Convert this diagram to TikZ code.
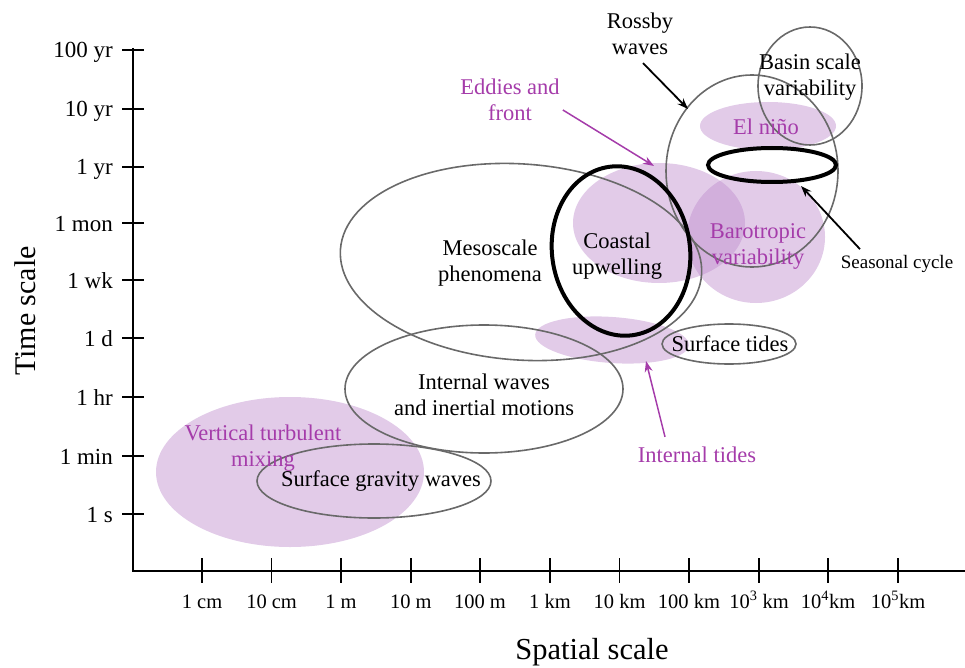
\documentclass[tikz,border=0pt]{standalone}
\usepackage{fontspec}
\setmainfont{Liberation Serif}
\usepackage{xcolor}
\usepackage{tikz}
\usetikzlibrary{arrows.meta}

\definecolor{lilac}{RGB}{190,140,205}
\definecolor{plum}{RGB}{165,60,170}
\definecolor{rimgray}{RGB}{105,105,105}

\tikzset{
  blob/.style={fill=lilac,fill opacity=0.45,draw=none},
  rim/.style={draw=rimgray,line width=1.6pt},
  boldrim/.style={draw=black,line width=4pt},
  lbl/.style={font=\fontsize{22.5}{26}\selectfont,align=center,inner sep=0pt},
  plbl/.style={lbl,text=plum},
  ticklbl/.style={font=\fontsize{20.5}{24}\selectfont,inner sep=0pt},
  pointer/.style={-{Stealth[length=11pt,width=8pt]},line width=1.8pt},
}

\begin{document}
\begin{tikzpicture}[x=1pt,y=-1pt]
\useasboundingbox (0,0) rectangle (965,668);

% Shaded regions
\fill[blob] (290,472) ellipse [x radius=134,y radius=75];
\fill[blob] (659,223) ellipse [x radius=86,y radius=60];
\fill[blob,rotate around={-4:(612,340)}] (612,340) ellipse [x radius=77,y radius=23];
\fill[blob] (756,237) ellipse [x radius=69,y radius=66];
\fill[blob] (768,126) ellipse [x radius=68,y radius=24];

% Outlined regions
\draw[rim] (374,481) ellipse [x radius=117,y radius=37];
\draw[rim] (484,389) ellipse [x radius=139,y radius=64];
\draw[rim,rotate around={-4:(521,262)}] (521,262) ellipse [x radius=181,y radius=98];
\draw[rim] (729,344) ellipse [x radius=67,y radius=20];
\draw[rim] (752,171) ellipse [x radius=86,y radius=96];
\draw[rim] (810,86) ellipse [x radius=52,y radius=59];
\draw[boldrim,rotate around={8:(621,251)}] (621,251) ellipse [x radius=69,y radius=85];
\draw[boldrim] (772,165) ellipse [x radius=64,y radius=17];

% Axes
\draw[line width=2pt] (133,48) -- (133,571) -- (965,571);
\foreach \y/\t in {50/100 yr,109/10 yr,167/1 yr,223/1 mon,280/1 wk,338/1 d,397/1 hr,456/1 min,514/1 s}{
  \draw[line width=2pt] (122,\y) -- (144,\y);
  \node[ticklbl,font=\fontsize{23}{26}\selectfont,anchor=base east] at (113,\y+8) {\t};
}
\foreach \x/\t in {202/1 cm,271.6/10 cm,341/1 m,410.8/10 m,480/100 m,550/1 km,619.6/10 km,689/100 km,
  759/10\textsuperscript{3} km,828/10\textsuperscript{4}km,898/10\textsuperscript{5}km}{
  \draw[line width=1.6pt] (\x,558) -- (\x,583);
  \node[ticklbl,anchor=base] at (\x,608) {\t};
}
\node[lbl,font=\fontsize{30}{34}\selectfont,rotate=90] (timelbl) at (25,311) {Time scale};
\node[lbl,font=\fontsize{30.5}{34}\selectfont] (spacelbl) at (592,652) {Spatial scale};

% Labels
\node[plbl] (mixing) at (263,448) {Vertical turbulent\\mixing};
\node[lbl] (gravity) at (381,481) {Surface gravity waves};
\node[lbl] (internal) at (484,395) {Internal waves\\and inertial motions};
\node[lbl] (meso) at (490,263) {Mesoscale\\phenomena};
\node[lbl] (coastal) at (617,256) {Coastal\\upwelling};
\node[lbl] (surftides) at (730,344) {Surface tides};
\node[plbl] (barotropic) at (758,246) {Barotropic\\variability};
\node[plbl] (elnino) at (766,127) {El niño};
\node[lbl] (basin) at (810,77) {Basin scale\\variability};
\node[lbl] (rossby) at (640,34) {Rossby\\waves};
\node[plbl] (eddies) at (510,100) {Eddies and\\front};
\node[plbl] (inttides) at (697,455) {Internal tides};
\node[lbl,font=\fontsize{19}{22}\selectfont] (seasonal) at (897,264) {Seasonal cycle};

% Pointers
\coordinate (rossbytip) at (688,109);
\coordinate (eddiestip) at (654,166);
\coordinate (seasontip) at (801,186);
\coordinate (inttidestip) at (646,361);
\draw[pointer] (rossby.south) ++(3,8) -- (rossbytip);
\draw[pointer,plum,line width=1.5pt] (eddies.east) ++(3,10) -- (eddiestip);
\draw[pointer] (seasonal.north) ++(-37,-6) -- (seasontip);
\draw[pointer,plum,line width=1.5pt] (inttides.north) ++(-32,-10) -- (inttidestip);
\end{tikzpicture}
\end{document}
